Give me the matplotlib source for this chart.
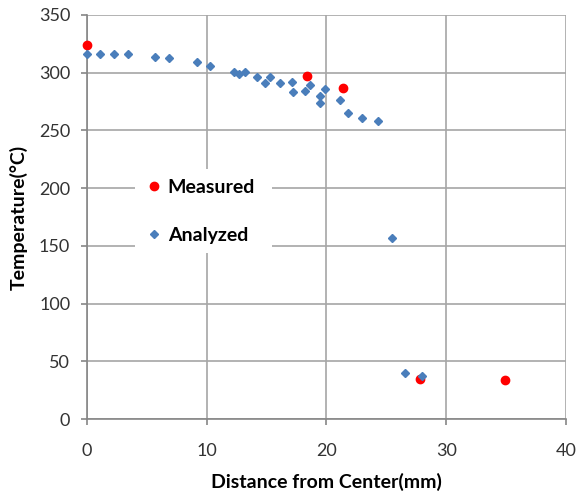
import matplotlib.pyplot as plt

# Measured points
meas_x = [0, 18.4, 21.4, 27.8, 34.9]
meas_y = [324, 297, 287, 35, 34]

# Analyzed points
ana_x = [0, 1.1, 2.3, 3.4, 5.7, 6.9, 9.2, 10.3, 12.3, 12.7, 13.2, 14.2, 14.9, 15.3,
         16.1, 17.1, 17.2, 18.2, 18.6, 19.5, 19.5, 19.9, 21.1, 21.8, 23.0, 24.3,
         25.5, 26.6, 28.0]
ana_y = [316, 316, 316, 316, 314, 313, 309, 306, 301, 299, 301, 296, 291, 296,
         291, 292, 283, 284, 289, 280, 274, 286, 276, 265, 261, 258,
         157, 40, 37]

xticks = [0, 10, 20, 30, 40]
yticks = [0, 50, 100, 150, 200, 250, 300, 350]

plt.rcParams['font.family'] = ['Lato', 'DejaVu Sans']

fig = plt.figure(figsize=(5.79, 4.95), dpi=100)
ax = fig.add_axes([0.150, 0.1535, 0.8275, 0.8162])

ax.plot(meas_x, meas_y, 'o', color='#ff0000', markersize=6, label='Measured',
        zorder=3, clip_on=False)
ax.plot(ana_x, ana_y, 'D', color='#4a7ebb', markersize=4.5, label='Analyzed',
        zorder=4, clip_on=False)

ax.set_xlim(0, 40)
ax.set_ylim(0, 350)
ax.set_xticks(xticks)
ax.set_yticks(yticks)

grid_col = '#a6a6a6'
ax.grid(True, color=grid_col, linewidth=1.2)
ax.set_axisbelow(True)
for s in ax.spines.values():
    s.set_visible(False)
for side in ['left', 'bottom']:
    ax.spines[side].set_visible(True)
    ax.spines[side].set_color('#868686')
    ax.spines[side].set_linewidth(1.2)

ax.tick_params(axis='both', colors='#868686', labelcolor='#333333',
               labelsize=13, length=4, width=1.2, direction='out')
ax.tick_params(axis='x', pad=13)
ax.tick_params(axis='y', pad=8)

ax.set_xlabel('Distance from Center(mm)', fontsize=14, fontweight='bold', labelpad=10)
ax.set_ylabel('Temperature(°C)', fontsize=14, fontweight='bold', labelpad=8)

leg = ax.legend(loc='lower left', bbox_to_anchor=(0.10, 0.41, 0.286, 0.228),
                mode='expand', frameon=True, fancybox=False, framealpha=1,
                edgecolor='none', facecolor='white',
                prop={'weight': 'bold', 'size': 14}, handletextpad=0.2,
                labelspacing=1.6, borderpad=0.5, handlelength=1.0,
                borderaxespad=0)

plt.savefig('out.png', dpi=100, facecolor='white')
